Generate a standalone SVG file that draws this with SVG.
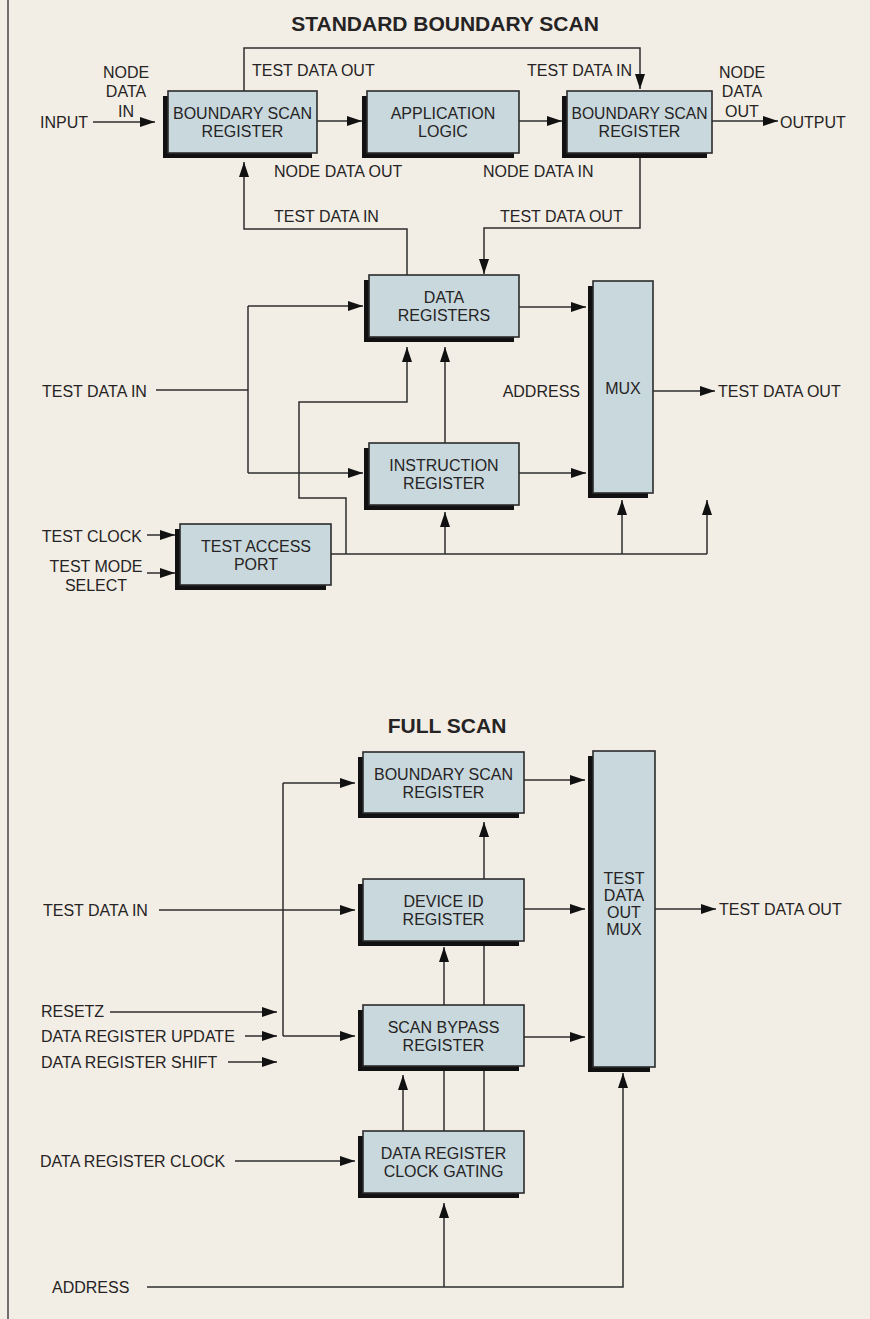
<svg xmlns="http://www.w3.org/2000/svg" width="870" height="1319" viewBox="0 0 870 1319">
<style>
text{font-family:"Liberation Sans",Arial,sans-serif;font-size:16px;fill:#262324}
.t{font-size:21px;font-weight:bold}
.m{text-anchor:middle}
.e{text-anchor:end}
.box{fill:#c8d8dc;stroke:#2b2b2b;stroke-width:1.6}
.sh{fill:#111}
.c path{fill:none;stroke:#2e2e2e;stroke-width:1.5}
.c path.a{marker-end:url(#ah)}
</style>
<defs>
<marker id="ah" markerUnits="userSpaceOnUse" markerWidth="16" markerHeight="10" refX="15" refY="5" orient="auto">
<path d="M0,0 L15,5 L0,10 z" fill="#111"/>
</marker>
</defs>
<rect width="870" height="1319" fill="#f2eee5"/>
<line x1="8" y1="0" x2="8" y2="1319" stroke="#444" stroke-width="1.5"/>

<text class="t m" x="445" y="31">STANDARD BOUNDARY SCAN</text>
<text class="t m" x="447" y="733">FULL SCAN</text>

<g class="c" id="connectors">
<path class="a" d="M93,122 H155"/>
<path class="a" d="M317,121 H362"/>
<path class="a" d="M519,121 H562"/>
<path class="a" d="M712,121 H778"/>
<path class="a" d="M244,91 V48 H640 V89"/>
<path class="a" d="M407,275 V229 H244 V162"/>
<path class="a" d="M640,153 V228 H484 V274"/>
<path d="M156,390 H248"/>
<path d="M248,306 V473"/>
<path class="a" d="M248,306 H363"/>
<path class="a" d="M248,473 H363"/>
<path class="a" d="M519,307 H586"/>
<path class="a" d="M519,473 H586"/>
<path class="a" d="M653,391 H715"/>
<path d="M331,554 H707"/>
<path class="a" d="M445,554 V512"/>
<path class="a" d="M622,554 V500"/>
<path class="a" d="M707,554 V500"/>
<path class="a" d="M346,554 V498 H299 V402 H407 V347"/>
<path class="a" d="M445,443 V347"/>
<path class="a" d="M147,535 H175"/>
<path class="a" d="M147,573 H175"/>

<path class="a" d="M159,910 H355"/>
<path d="M283,783 V1036"/>
<path class="a" d="M283,783 H355"/>
<path class="a" d="M283,1036 H355"/>
<path class="a" d="M110,1012 H277"/>
<path class="a" d="M245,1036 H277"/>
<path class="a" d="M228,1062 H277"/>
<path class="a" d="M524,780 H585"/>
<path class="a" d="M524,909 H585"/>
<path class="a" d="M524,1037 H585"/>
<path class="a" d="M655,909 H716"/>
<path class="a" d="M484,879 V822"/>
<path class="a" d="M444,1005 V947"/>
<path d="M484,941 V1005"/>
<path class="a" d="M403,1131 V1075"/>
<path d="M444,1131 V1066"/>
<path d="M484,1131 V1066"/>
<path class="a" d="M235,1161 H355"/>
<path class="a" d="M147,1287 H623 V1073"/>
<path class="a" d="M444,1287 V1203"/>
</g>

<g id="bsr1">
<rect class="sh" x="163" y="96" width="149" height="62"/>
<rect class="box" x="168" y="91" width="149" height="62"/>
<text class="m" x="242.5" y="119">BOUNDARY SCAN</text>
<text class="m" x="242.5" y="137">REGISTER</text>
</g>
<g id="applogic">
<rect class="sh" x="362" y="96" width="152" height="62"/>
<rect class="box" x="367" y="91" width="152" height="62"/>
<text class="m" x="443" y="119">APPLICATION</text>
<text class="m" x="443" y="137">LOGIC</text>
</g>
<g id="bsr2">
<rect class="sh" x="562" y="96" width="145" height="62"/>
<rect class="box" x="567" y="91" width="145" height="62"/>
<text class="m" x="639.5" y="119" textLength="136" lengthAdjust="spacingAndGlyphs">BOUNDARY SCAN</text>
<text class="m" x="639.5" y="137">REGISTER</text>
</g>
<g id="dataregs">
<rect class="sh" x="364" y="280" width="150" height="62"/>
<rect class="box" x="369" y="275" width="150" height="62"/>
<text class="m" x="444" y="303">DATA</text>
<text class="m" x="444" y="321">REGISTERS</text>
</g>
<g id="instr">
<rect class="sh" x="364" y="448" width="150" height="62"/>
<rect class="box" x="369" y="443" width="150" height="62"/>
<text class="m" x="444" y="471">INSTRUCTION</text>
<text class="m" x="444" y="489">REGISTER</text>
</g>
<g id="mux">
<rect class="sh" x="588" y="286" width="60" height="212"/>
<rect class="box" x="593" y="281" width="60" height="212"/>
<text class="m" x="623" y="394">MUX</text>
</g>
<g id="tap">
<rect class="sh" x="175" y="529" width="151" height="61"/>
<rect class="box" x="180" y="524" width="151" height="61"/>
<text class="m" x="256" y="552">TEST ACCESS</text>
<text class="m" x="256" y="570">PORT</text>
</g>

<g id="fs_bsr">
<rect class="sh" x="358" y="757" width="161" height="61"/>
<rect class="box" x="363" y="752" width="161" height="61"/>
<text class="m" x="443.5" y="780">BOUNDARY SCAN</text>
<text class="m" x="443.5" y="798">REGISTER</text>
</g>
<g id="devid">
<rect class="sh" x="358" y="884" width="161" height="62"/>
<rect class="box" x="363" y="879" width="161" height="62"/>
<text class="m" x="443.5" y="907">DEVICE ID</text>
<text class="m" x="443.5" y="925">REGISTER</text>
</g>
<g id="bypass">
<rect class="sh" x="358" y="1010" width="161" height="61"/>
<rect class="box" x="363" y="1005" width="161" height="61"/>
<text class="m" x="443.5" y="1033">SCAN BYPASS</text>
<text class="m" x="443.5" y="1051">REGISTER</text>
</g>
<g id="drcg">
<rect class="sh" x="358" y="1136" width="161" height="62"/>
<rect class="box" x="363" y="1131" width="161" height="62"/>
<text class="m" x="443.5" y="1159">DATA REGISTER</text>
<text class="m" x="443.5" y="1177">CLOCK GATING</text>
</g>
<g id="tdomux">
<rect class="sh" x="588" y="756" width="62" height="316"/>
<rect class="box" x="593" y="751" width="62" height="316"/>
<text class="m" x="624" y="884">TEST</text>
<text class="m" x="624" y="901">DATA</text>
<text class="m" x="624" y="918">OUT</text>
<text class="m" x="624" y="935">MUX</text>
</g>

<g id="labels">
<text class="m" x="126" y="78">NODE</text>
<text class="m" x="126" y="97">DATA</text>
<text class="m" x="126" y="117">IN</text>
<text x="40" y="128">INPUT</text>
<text x="252" y="76">TEST DATA OUT</text>
<text class="e" x="632" y="76">TEST DATA IN</text>
<text class="m" x="742" y="78">NODE</text>
<text class="m" x="742" y="97">DATA</text>
<text class="m" x="742" y="117">OUT</text>
<text x="780" y="128">OUTPUT</text>
<text x="274" y="177">NODE DATA OUT</text>
<text x="483" y="177">NODE DATA IN</text>
<text x="274" y="222">TEST DATA IN</text>
<text x="500" y="222">TEST DATA OUT</text>
<text x="42" y="397">TEST DATA IN</text>
<text class="e" x="580" y="397">ADDRESS</text>
<text x="718" y="397">TEST DATA OUT</text>
<text class="e" x="142" y="542">TEST CLOCK</text>
<text class="m" x="96" y="572">TEST MODE</text>
<text class="m" x="96" y="591">SELECT</text>
<text x="43" y="916">TEST DATA IN</text>
<text x="719" y="915">TEST DATA OUT</text>
<text x="41" y="1017">RESETZ</text>
<text x="41" y="1042">DATA REGISTER UPDATE</text>
<text x="41" y="1068">DATA REGISTER SHIFT</text>
<text x="40" y="1167">DATA REGISTER CLOCK</text>
<text x="52" y="1293">ADDRESS</text>
</g>
</svg>
